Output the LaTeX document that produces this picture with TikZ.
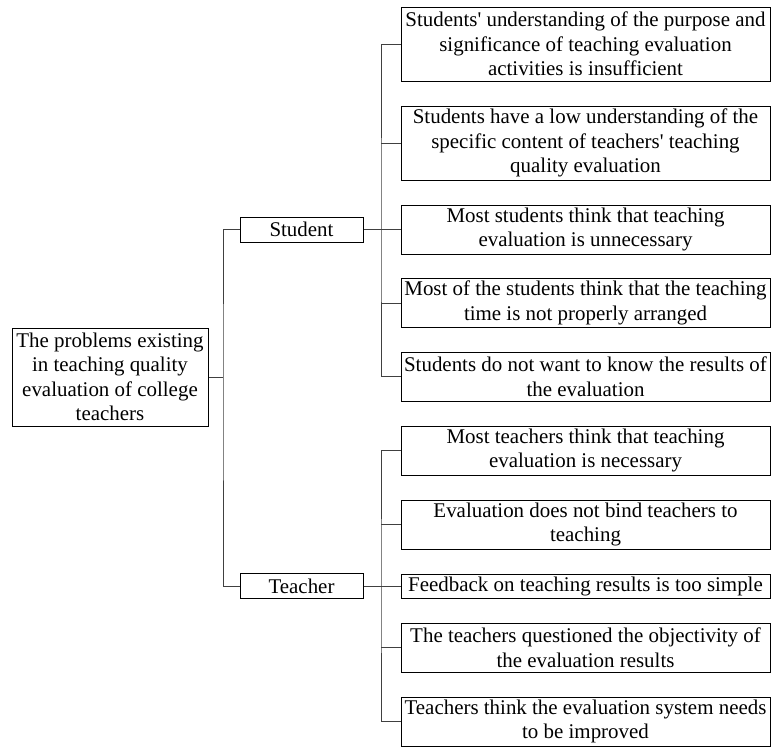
\documentclass[tikz,border=0pt]{standalone}
\usepackage{fontspec}
\setmainfont{Liberation Serif}
\tikzset{
  box/.style={draw=black, line width=0.75pt, inner sep=0pt, align=center, fill=white,
    font=\fontsize{15.7}{18.4}\selectfont},
  rootbox/.style={box, minimum width=147pt, minimum height=73.5pt},
  midbox/.style={box, minimum width=92.25pt, minimum height=18.75pt},
  leafthree/.style={box, minimum width=276.75pt, minimum height=55.5pt},
  leaftwo/.style={box, minimum width=276.75pt, minimum height=36.75pt},
  leafone/.style={box, minimum width=276.75pt, minimum height=18pt},
  conn/.style={draw=black!75, line width=0.75pt}
}
\begin{document}
\begin{tikzpicture}[x=0.75pt, y=-0.75pt]
\useasboundingbox (0,0) rectangle (771,747);
\node[rootbox] (root) at (110,377) {The problems existing\\in teaching quality\\evaluation of college\\teachers};
\node[midbox] (student) at (301.5,229.5) {Student};
\node[midbox] (teacher) at (301.5,586) {Teacher};
\node[leafthree] (s1) at (585.5,44) {Students\textquotesingle{} understanding of the purpose and\\significance of teaching evaluation\\activities is insufficient};
\node[leafthree] (s2) at (585.5,143) {Students have a low understanding of the\\specific content of teachers\textquotesingle{} teaching\\quality evaluation};
\node[leaftwo] (s3) at (585.5,229.5) {Most students think that teaching\\evaluation is unnecessary};
\node[leaftwo] (s4) at (585.5,303) {Most of the students think that the teaching\\time is not properly arranged};
\node[leaftwo] (s5) at (585.5,376.5) {Students do not want to know the results of\\the evaluation};
\node[leaftwo] (t1) at (585.5,450.5) {Most teachers think that teaching\\evaluation is necessary};
\node[leaftwo] (t2) at (585.5,524.5) {Evaluation does not bind teachers to\\teaching};
\node[leafone] (t3) at (585.5,586) {Feedback on teaching results is too simple};
\node[leaftwo] (t4) at (585.5,647.5) {The teachers questioned the objectivity of\\the evaluation results};
\node[leaftwo] (t5) at (585.5,721.5) {Teachers think the evaluation system needs\\to be improved};
\coordinate (j1) at (223,377);
\coordinate (j2) at (381,229.5);
\coordinate (j3) at (381,586);
\draw[conn] (root.east) -- (j1);
\draw[conn] (student.west) -| (j1) |- (teacher.west);
\draw[conn] (student.east) -- (j2);
\draw[conn] (s1.west) -| (j2) |- (s5.west);
\draw[conn] (s2.west) -- (s2.west -| j2);
\draw[conn] (s3.west) -- (s3.west -| j2);
\draw[conn] (s4.west) -- (s4.west -| j2);
\draw[conn] (teacher.east) -- (j3);
\draw[conn] (t1.west) -| (j3) |- (t5.west);
\draw[conn] (t2.west) -- (t2.west -| j3);
\draw[conn] (t3.west) -- (t3.west -| j3);
\draw[conn] (t4.west) -- (t4.west -| j3);
\end{tikzpicture}
\end{document}
